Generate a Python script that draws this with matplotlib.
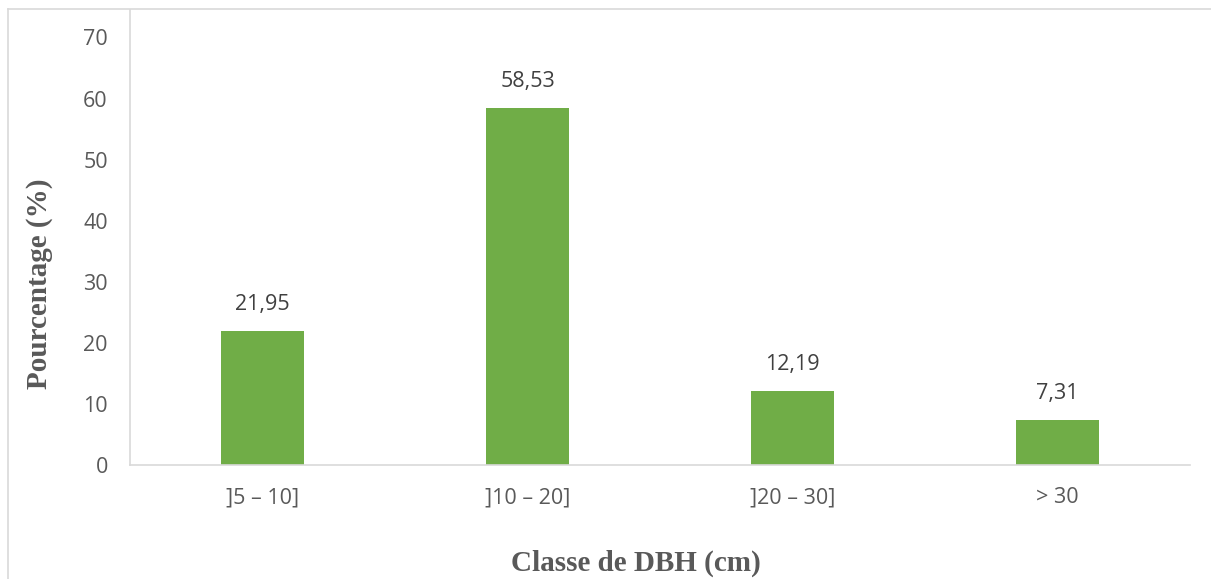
import numpy as np
import matplotlib.pyplot as plt
from matplotlib.lines import Line2D

# données
classes = [']5 – 10]', ']10 – 20]', ']20 – 30]', '> 30']
pourcentages = [21.95, 58.53, 12.19, 7.31]
etiquettes = ['21,95', '58,53', '12,19', '7,31']
yticks = [0, 10, 20, 30, 40, 50, 60, 70]

W, H = 1211, 579
fig = plt.figure(figsize=(W / 100, H / 100), dpi=100)

# zone de tracé en pixels: x 130..1190, y 10..465
ax = fig.add_axes([130 / W, (H - 465) / H, 1060 / W, 455 / H])

x = np.arange(len(classes))
ax.bar(x, pourcentages, width=0.31, color='#70AD47')

for xi, v, t in zip(x, pourcentages, etiquettes):
    ax.text(xi, v + 2.6, t, ha='center', va='bottom', fontsize=15.5,
            family='Open Sans', color='#404040')

ax.set_xlim(-0.5, 3.5)
ax.set_ylim(0, 74.5)
ax.set_yticks(yticks)
ax.set_xticks(x)
ax.set_xticklabels(classes)

for lab in ax.get_xticklabels() + ax.get_yticklabels():
    lab.set_family('Open Sans')
    lab.set_fontsize(15.5)
    lab.set_color('#595959')

ax.tick_params(axis='both', length=0)
ax.tick_params(axis='y', pad=16)
ax.tick_params(axis='x', pad=16)

ax.spines['top'].set_visible(False)
ax.spines['right'].set_visible(False)
ax.spines['left'].set_color('#D9D9D9')
ax.spines['bottom'].set_color('#D9D9D9')
ax.spines['left'].set_linewidth(1.2)
ax.spines['bottom'].set_linewidth(1.2)

# titres des axes
fig.text(636 / W, 1 - 563 / H, 'Classe de DBH (cm)', ha='center', va='center',
         family='Liberation Serif', fontweight='bold', fontsize=21, color='#595959')
fig.text(40 / W, 1 - 284 / H, 'Pourcentage (%)', ha='center', va='center', rotation=90,
         family='Liberation Serif', fontweight='bold', fontsize=21, color='#595959')

# cadre du graphique (gauche et haut)
fig.add_artist(Line2D([8 / W, 8 / W], [0, 1 - 9 / H], transform=fig.transFigure,
                      color='#D9D9D9', linewidth=1.2))
fig.add_artist(Line2D([8 / W, 1], [1 - 9 / H, 1 - 9 / H], transform=fig.transFigure,
                      color='#D9D9D9', linewidth=1.2))

plt.savefig('out.png', dpi=100)
plt.close()
